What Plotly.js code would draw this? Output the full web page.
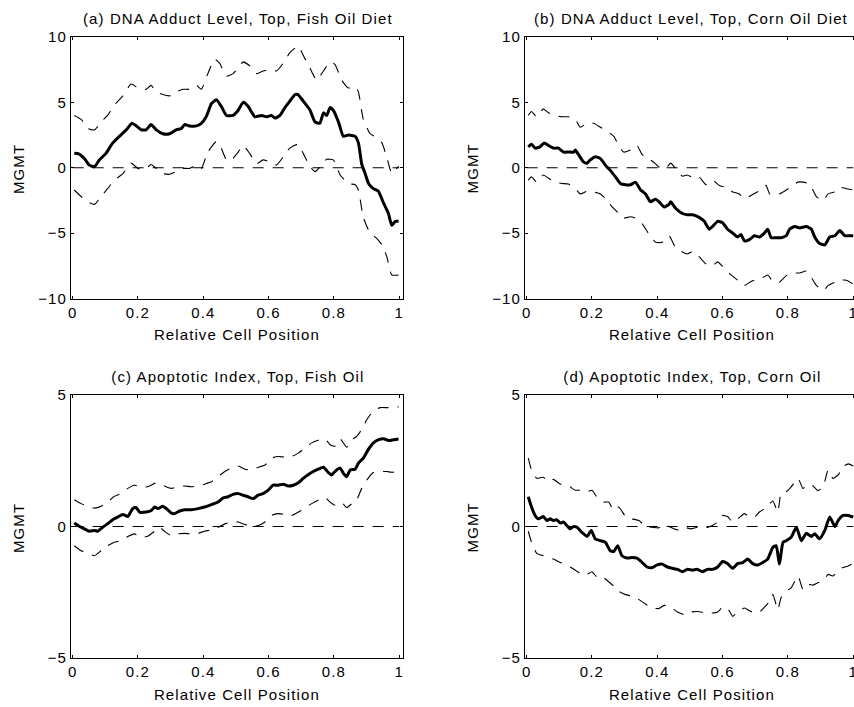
<!DOCTYPE html>
<html>
<head>
<meta charset="utf-8">
<script src="https://cdn.plot.ly/plotly-3.0.1.min.js"></script>
<style>
html, body { margin: 0; padding: 0; overflow: hidden; background: #fff; width: 854px; height: 707px; }
#chart { width: 860px; height: 707px; }
.main-svg text { letter-spacing: 1.1px; }
</style>
</head>
<body>
<div id="chart"></div>
<script>
// ---------- data ----------
const xTickVals = [0, 0.2, 0.4, 0.6, 0.8, 1];
const xTickText = ['0', '0.2', '0.4', '0.6', '0.8', '1'];
const yTickValsTop = [-10, -5, 0, 5, 10];
const yTickTextTop = ['\u221210', '\u22125', '0', '5', '10'];
const yTickValsBot = [-5, 0, 5];
const yTickTextBot = ['\u22125', '0', '5'];

const panelTitles = [
  '(a) DNA Adduct Level, Top, Fish Oil Diet',
  '(b) DNA Adduct Level, Top, Corn Oil Diet',
  '(c) Apoptotic Index, Top, Fish Oil',
  '(d) Apoptotic Index, Top, Corn Oil'
];
const xAxisLabel = 'Relative Cell Position';
const yAxisLabel = 'MGMT';

const zeroX = [0, 1];
const zeroY = [0, 0];

// (a) DNA adduct, fish oil
const aMeanX = [0.005,0.020,0.036,0.051,0.067,0.082,0.102,0.123,0.143,0.164,0.182,0.195,0.210,0.225,0.240,0.256,0.276,0.297,0.317,0.333,0.343,0.358,0.379,0.394,0.409,0.425,0.440,0.455,0.471,0.491,0.507,0.522,0.537,0.558,0.578,0.594,0.609,0.619,0.635,0.650,0.665,0.681,0.690,0.706,0.727,0.742,0.757,0.768,0.778,0.788,0.798,0.814,0.829,0.844,0.865,0.875,0.885,0.895,0.906,0.921,0.936,0.952,0.967,0.977,0.988,0.998];
const aMean = [1.1,1.05,0.7,0.2,0.08,0.6,1.1,1.9,2.4,2.9,3.4,3.2,2.9,2.9,3.3,2.9,2.6,2.6,2.9,3.0,3.3,3.2,3.2,3.4,3.9,4.9,5.2,4.7,4.0,4.0,4.4,5.0,4.7,3.9,4.0,3.9,4.0,3.8,4.0,4.6,5.1,5.6,5.6,5.1,4.4,3.5,3.4,4.2,4.0,4.6,4.4,3.5,2.4,2.5,2.4,1.9,0.3,-0.4,-1.2,-1.6,-1.8,-2.7,-3.5,-4.4,-4.1,-4.1];
const aUpperX = [0.005,0.026,0.046,0.067,0.087,0.107,0.128,0.154,0.179,0.200,0.225,0.240,0.256,0.276,0.297,0.317,0.338,0.358,0.379,0.394,0.414,0.435,0.450,0.471,0.491,0.512,0.522,0.542,0.563,0.583,0.604,0.624,0.645,0.665,0.691,0.706,0.727,0.747,0.768,0.788,0.803,0.824,0.844,0.865,0.875,0.890,0.911,0.931,0.947,0.962,0.977,0.998];
const aUpper = [4.0,3.7,3.0,2.9,3.5,4.0,4.8,5.5,6.4,6.1,6.0,6.3,5.8,5.6,5.5,5.8,6.0,6.0,6.3,6.0,7.2,8.3,8.0,7.0,7.2,7.8,8.1,7.8,7.2,7.4,7.5,7.4,8.0,8.8,9.3,8.6,7.6,6.7,7.4,8.1,7.9,6.7,6.1,6.2,5.8,3.7,2.6,2.3,1.9,0.8,-0.4,0.1];
const aLowerX = [0.005,0.026,0.046,0.067,0.087,0.107,0.128,0.154,0.179,0.200,0.225,0.240,0.256,0.276,0.297,0.317,0.338,0.358,0.379,0.394,0.414,0.440,0.455,0.471,0.486,0.507,0.522,0.542,0.563,0.583,0.604,0.624,0.645,0.665,0.691,0.706,0.727,0.742,0.762,0.778,0.798,0.819,0.844,0.865,0.875,0.890,0.911,0.931,0.947,0.962,0.977,0.998];
const aLower = [-1.7,-2.2,-2.6,-2.8,-2.2,-1.6,-0.95,-0.45,0.35,-0.05,-0.05,0.25,-0.05,-0.45,-0.5,-0.3,-0.05,-0.05,0.2,-0.05,1.2,2.0,1.5,0.6,0.6,1.2,1.7,1.1,0.3,0.6,0.45,0.2,0.85,1.5,1.8,1.1,0.1,-0.3,0.2,0.65,0.6,-0.55,-1.2,-1.3,-1.7,-3.8,-5.0,-5.4,-5.9,-6.8,-8.2,-8.2];

// (b) DNA adduct, corn oil
const bMeanX = [0.005,0.015,0.026,0.041,0.054,0.067,0.082,0.097,0.113,0.128,0.144,0.149,0.159,0.174,0.185,0.195,0.210,0.226,0.241,0.256,0.272,0.287,0.303,0.318,0.333,0.349,0.364,0.379,0.395,0.405,0.421,0.436,0.441,0.456,0.477,0.492,0.508,0.528,0.544,0.559,0.569,0.585,0.600,0.615,0.631,0.646,0.656,0.667,0.682,0.697,0.713,0.728,0.738,0.749,0.764,0.779,0.795,0.805,0.821,0.836,0.856,0.872,0.882,0.897,0.913,0.928,0.944,0.959,0.974,0.990,1.000];
const bMean = [1.6,1.8,1.5,1.6,1.9,1.7,1.5,1.5,1.2,1.2,1.2,1.35,1.0,0.45,0.35,0.6,0.85,0.7,0.2,-0.2,-0.7,-1.2,-1.3,-1.3,-1.1,-1.7,-2.0,-2.6,-2.4,-2.6,-3.0,-2.8,-2.6,-3.1,-3.5,-3.6,-3.6,-3.8,-4.1,-4.7,-4.5,-4.1,-4.2,-4.7,-5.0,-5.3,-5.1,-5.6,-5.5,-5.2,-5.3,-5.0,-4.7,-5.35,-5.35,-5.35,-5.2,-4.7,-4.5,-4.6,-4.5,-4.7,-5.3,-5.8,-5.9,-5.3,-5.2,-4.8,-5.2,-5.2,-5.2];
const bUpperX = [0.005,0.015,0.031,0.051,0.067,0.087,0.108,0.128,0.149,0.164,0.185,0.205,0.226,0.246,0.267,0.282,0.297,0.318,0.338,0.354,0.374,0.395,0.410,0.431,0.441,0.456,0.477,0.492,0.508,0.528,0.549,0.569,0.590,0.610,0.631,0.651,0.667,0.682,0.703,0.718,0.733,0.744,0.759,0.774,0.795,0.815,0.831,0.846,0.862,0.872,0.887,0.908,0.923,0.944,0.959,0.979,1.000];
const bUpper = [4.0,4.3,3.9,4.5,4.2,4.0,3.9,3.9,3.7,3.1,3.4,3.4,3.1,2.8,2.4,1.7,1.2,1.35,1.7,1.0,0.7,0.3,-0.05,0.1,0.35,-0.05,-0.65,-0.55,-0.75,-0.7,-1.3,-0.95,-1.35,-1.5,-1.85,-2.0,-2.35,-2.2,-1.9,-1.7,-1.35,-2.0,-2.1,-2.0,-1.7,-1.35,-1.1,-1.1,-1.2,-1.5,-2.2,-2.5,-2.0,-1.85,-1.5,-1.6,-1.7];
const bLowerX = [0.005,0.015,0.031,0.051,0.067,0.087,0.108,0.128,0.149,0.164,0.185,0.205,0.226,0.241,0.262,0.282,0.297,0.318,0.338,0.354,0.374,0.395,0.415,0.436,0.456,0.477,0.492,0.508,0.528,0.549,0.569,0.585,0.605,0.626,0.646,0.667,0.687,0.708,0.723,0.738,0.754,0.774,0.795,0.815,0.836,0.856,0.872,0.887,0.908,0.923,0.944,0.959,0.979,1.000];
const bLower = [-0.95,-0.7,-1.1,-0.55,-0.8,-1.1,-1.2,-1.25,-1.6,-2.0,-1.8,-1.85,-2.0,-2.35,-3.0,-3.5,-3.85,-3.75,-3.9,-4.3,-5.05,-5.7,-5.7,-5.2,-6.1,-6.45,-6.6,-6.4,-6.8,-7.35,-7.5,-7.2,-7.7,-8.2,-8.6,-9.0,-8.7,-8.5,-8.4,-8.2,-8.7,-8.75,-8.25,-8.05,-8.05,-7.9,-8.4,-9.0,-9.4,-9.0,-8.75,-8.6,-8.6,-8.9];

// (c) Apoptotic index, fish oil
const cMeanX = [0.005,0.020,0.036,0.051,0.067,0.077,0.092,0.107,0.123,0.138,0.154,0.169,0.184,0.194,0.205,0.225,0.241,0.251,0.261,0.276,0.287,0.302,0.312,0.328,0.343,0.363,0.384,0.404,0.425,0.445,0.461,0.476,0.491,0.507,0.522,0.537,0.553,0.568,0.583,0.599,0.614,0.629,0.645,0.660,0.676,0.691,0.706,0.722,0.737,0.752,0.768,0.783,0.793,0.803,0.819,0.829,0.839,0.850,0.865,0.875,0.890,0.906,0.921,0.937,0.952,0.967,0.983,0.998];
const cMean = [0.13,0.01,-0.09,-0.18,-0.15,-0.18,-0.03,0.1,0.26,0.36,0.46,0.38,0.68,0.72,0.55,0.55,0.61,0.74,0.68,0.77,0.68,0.51,0.49,0.59,0.64,0.64,0.68,0.74,0.83,0.93,1.09,1.13,1.22,1.25,1.19,1.13,1.06,1.19,1.25,1.38,1.57,1.57,1.61,1.54,1.57,1.66,1.83,1.98,2.09,2.18,2.25,2.05,1.96,2.09,2.22,2.02,1.89,2.15,2.18,2.41,2.6,2.94,3.18,3.3,3.34,3.27,3.3,3.33];
const cBandX = [0.005,0.026,0.046,0.067,0.087,0.107,0.128,0.148,0.169,0.189,0.210,0.230,0.251,0.266,0.281,0.302,0.322,0.343,0.363,0.384,0.404,0.425,0.445,0.466,0.486,0.507,0.527,0.548,0.568,0.589,0.609,0.629,0.650,0.670,0.691,0.711,0.732,0.752,0.773,0.788,0.803,0.819,0.829,0.839,0.855,0.870,0.885,0.901,0.921,0.942,0.962,0.977,0.998];
const cUpper = [1.02,0.87,0.77,0.7,0.77,0.93,1.15,1.25,1.45,1.57,1.51,1.51,1.64,1.66,1.54,1.45,1.51,1.54,1.51,1.54,1.61,1.7,1.9,2.09,2.22,2.3,2.18,2.15,2.25,2.34,2.6,2.66,2.64,2.66,2.79,2.98,3.18,3.28,3.33,3.11,3.05,3.33,3.18,3.02,3.3,3.43,3.69,4.07,4.39,4.52,4.52,4.52,4.55];
const cLower = [-0.73,-0.92,-1.01,-1.11,-0.92,-0.73,-0.6,-0.54,-0.38,-0.28,-0.41,-0.37,-0.18,-0.03,-0.18,-0.35,-0.28,-0.26,-0.28,-0.26,-0.18,-0.13,-0.03,0.1,0.17,0.17,0.08,0,0.04,0.17,0.42,0.49,0.46,0.42,0.55,0.7,0.87,1.0,1.1,0.93,0.81,0.93,0.85,0.72,0.87,1.02,1.45,1.77,2.05,2.09,2.09,2.06,2.09];

// (d) Apoptotic index, corn oil
const dMeanX = [0.005,0.015,0.026,0.036,0.051,0.062,0.072,0.082,0.092,0.103,0.113,0.123,0.133,0.144,0.154,0.169,0.185,0.198,0.210,0.226,0.241,0.256,0.267,0.279,0.292,0.308,0.323,0.338,0.354,0.369,0.385,0.400,0.415,0.431,0.446,0.462,0.477,0.492,0.508,0.523,0.538,0.554,0.569,0.585,0.600,0.615,0.631,0.646,0.662,0.677,0.692,0.708,0.723,0.738,0.754,0.764,0.774,0.785,0.795,0.810,0.826,0.841,0.856,0.872,0.882,0.897,0.913,0.928,0.944,0.954,0.969,0.985,1.000];
const dMean = [1.13,0.74,0.42,0.29,0.38,0.23,0.29,0.23,0.26,0.13,0.17,0.04,-0.09,0,-0.03,-0.22,-0.38,-0.15,-0.47,-0.54,-0.6,-0.92,-0.95,-0.73,-1.11,-1.2,-1.18,-1.2,-1.37,-1.54,-1.56,-1.46,-1.43,-1.54,-1.59,-1.63,-1.72,-1.63,-1.66,-1.63,-1.72,-1.63,-1.63,-1.54,-1.33,-1.41,-1.59,-1.41,-1.37,-1.24,-1.41,-1.46,-1.37,-1.24,-0.79,-0.73,-1.43,-0.6,-0.54,-0.41,-0.03,-0.54,-0.26,-0.38,-0.28,-0.47,-0.15,0.36,0,0.23,0.42,0.42,0.36];
const dBandX = [0.005,0.015,0.031,0.051,0.067,0.082,0.103,0.118,0.133,0.149,0.169,0.185,0.200,0.215,0.236,0.251,0.267,0.282,0.303,0.323,0.344,0.364,0.385,0.405,0.421,0.441,0.462,0.482,0.503,0.523,0.549,0.569,0.585,0.600,0.615,0.631,0.646,0.667,0.682,0.697,0.713,0.728,0.744,0.754,0.769,0.779,0.795,0.810,0.831,0.846,0.862,0.877,0.892,0.908,0.923,0.938,0.954,0.969,0.985,1.000];
const dUpper = [2.6,2.15,1.83,1.87,1.7,1.79,1.61,1.61,1.51,1.38,1.38,1.32,1.38,1.13,0.93,0.93,0.61,0.74,0.38,0.29,0.23,0,-0.03,-0.05,0.08,-0.03,-0.13,-0.03,-0.09,-0.03,-0.05,0.04,0.17,0.42,0.38,0.17,0.29,0.49,0.36,0.36,0.55,0.68,0.87,0.97,0.55,1.25,1.32,1.51,1.83,1.45,1.61,1.54,1.36,1.51,2.15,1.83,1.96,2.28,2.38,2.3];
const dLower = [-0.18,-0.6,-1.02,-1.11,-1.18,-1.24,-1.37,-1.43,-1.54,-1.66,-1.82,-1.82,-1.72,-1.92,-1.95,-2.1,-2.27,-2.46,-2.59,-2.65,-2.78,-2.95,-3.1,-3.12,-3.0,-3.07,-3.25,-3.35,-3.25,-3.23,-3.29,-3.29,-3.25,-3.07,-3.1,-3.42,-3.25,-3.1,-3.2,-3.29,-3.25,-3.07,-2.84,-2.59,-3.16,-2.71,-2.46,-2.33,-1.88,-2.39,-2.2,-2.23,-2.14,-2.07,-1.82,-1.88,-1.66,-1.56,-1.5,-1.41];

// ---------- build ----------
const W = 860, H = 707;
const px = v => v / W;
const py = v => 1 - v / H;

const panels = [
  {xa: 'x',  ya: 'y',  mx: aMeanX, m: aMean, ux: aUpperX, u: aUpper, lx: aLowerX, l: aLower},
  {xa: 'x2', ya: 'y2', mx: bMeanX, m: bMean, ux: bUpperX, u: bUpper, lx: bLowerX, l: bLower},
  {xa: 'x3', ya: 'y3', mx: cMeanX, m: cMean, ux: cBandX, u: cUpper, lx: cBandX, l: cLower},
  {xa: 'x4', ya: 'y4', mx: dMeanX, m: dMean, ux: dBandX, u: dUpper, lx: dBandX, l: dLower}
];

const dashStyle = {color: '#000', width: 1.1, dash: '11px,9px'};
const traces = [];
panels.forEach(p => {
  traces.push({x: zeroX, y: zeroY, xaxis: p.xa, yaxis: p.ya, mode: 'lines', line: dashStyle, hoverinfo: 'skip'});
  traces.push({x: p.ux, y: p.u, xaxis: p.xa, yaxis: p.ya, mode: 'lines', line: Object.assign({shape: 'spline', smoothing: 0.5}, dashStyle)});
  traces.push({x: p.lx, y: p.l, xaxis: p.xa, yaxis: p.ya, mode: 'lines', line: Object.assign({shape: 'spline', smoothing: 0.5}, dashStyle)});
  traces.push({x: p.mx, y: p.m, xaxis: p.xa, yaxis: p.ya, mode: 'lines', line: {color: '#000', width: 3, shape: 'spline', smoothing: 0.5}});
});

const font = {family: 'Liberation Sans, Arial, Helvetica, sans-serif', size: 15, color: '#000'};
const xDomL = [px(71), px(402.5)];
const xDomR = [px(525), px(856.5)];
const yDomT = [py(298.5), py(37)];
const yDomB = [py(658), py(395)];
const xRange = [-0.005, 1.01];

function xAxis(dom, anchor) {
  return {domain: dom, anchor: anchor, range: xRange, tickvals: xTickVals, ticktext: xTickText,
    ticks: 'inside', ticklen: 3, tickcolor: '#000', tickwidth: 1, showline: true, linecolor: '#000', linewidth: 1,
    mirror: 'ticks', showgrid: false, zeroline: false, tickfont: font, fixedrange: true};
}
function yAxis(dom, anchor, range, vals, text) {
  return {domain: dom, anchor: anchor, range: range, tickvals: vals, ticktext: text,
    ticks: 'inside', ticklen: 3, tickcolor: '#000', tickwidth: 1, showline: true, linecolor: '#000', linewidth: 1,
    mirror: 'ticks', showgrid: false, zeroline: false, tickfont: font, fixedrange: true};
}

const ann = (text, x, y, angle) => ({text: text, x: x, y: y, xref: 'paper', yref: 'paper', xanchor: 'center', yanchor: 'middle',
  showarrow: false, font: font, textangle: angle || 0});

const annotations = [
  ann(panelTitles[0], px(238.5), py(18.3)),
  ann(panelTitles[1], px(691.5), py(18.3)),
  ann(panelTitles[2], px(237.5), py(376.5)),
  ann(panelTitles[3], px(692.5), py(376.5)),
  ann(xAxisLabel, px(236.5), py(334.6)),
  ann(xAxisLabel, px(691.7), py(334.6)),
  ann(xAxisLabel, px(236.5), py(694.1)),
  ann(xAxisLabel, px(691.7), py(694.1)),
  ann(yAxisLabel, px(18.3), py(168.5), -90),
  ann(yAxisLabel, px(472.7), py(168.5), -90),
  ann(yAxisLabel, px(18.3), py(527.5), -90),
  ann(yAxisLabel, px(472.7), py(527.5), -90)
];

const layout = {
  width: W, height: H, margin: {l: 0, r: 0, t: 0, b: 0},
  paper_bgcolor: '#fff', plot_bgcolor: '#fff', showlegend: false, font: font,
  xaxis: xAxis(xDomL, 'y'), yaxis: yAxis(yDomT, 'x', [-10, 10], yTickValsTop, yTickTextTop),
  xaxis2: xAxis(xDomR, 'y2'), yaxis2: yAxis(yDomT, 'x2', [-10, 10], yTickValsTop, yTickTextTop),
  xaxis3: xAxis(xDomL, 'y3'), yaxis3: yAxis(yDomB, 'x3', [-5, 5], yTickValsBot, yTickTextBot),
  xaxis4: xAxis(xDomR, 'y4'), yaxis4: yAxis(yDomB, 'x4', [-5, 5], yTickValsBot, yTickTextBot),
  annotations: annotations
};

Plotly.newPlot('chart', traces, layout, {displayModeBar: false, staticPlot: true});
</script>
</body>
</html>
